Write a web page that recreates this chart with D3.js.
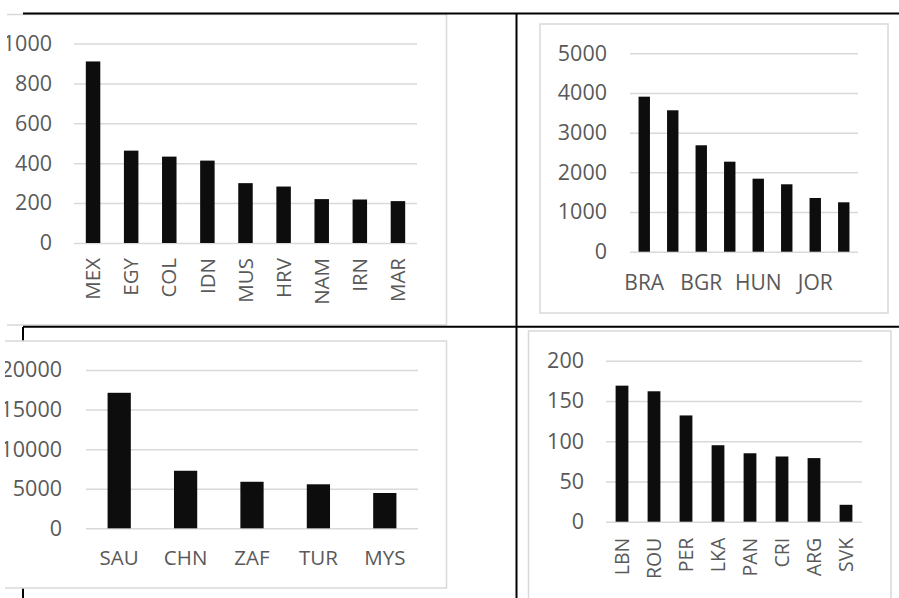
<!DOCTYPE html>
<html>
<head>
<meta charset="utf-8">
<script src="https://cdn.jsdelivr.net/npm/d3@7"></script>
<style>
  html, body { margin: 0; padding: 0; background: #fff; }
  svg { display: block; font-family: "Open Sans", "Liberation Sans", sans-serif; }
</style>
</head>
<body>
<svg id="chart" width="899" height="598"></svg>
<script>
// ---- data ----
const p1Categories = ["MEX", "EGY", "COL", "IDN", "MUS", "HRV", "NAM", "IRN", "MAR"];
const p1Values = [910, 463, 433, 413, 300, 283, 220, 218, 210];
const p1Ticks = [0, 200, 400, 600, 800, 1000];

const p2Categories = ["BRA", "", "BGR", "", "HUN", "", "JOR", ""];
const p2Values = [3907, 3564, 2682, 2269, 1840, 1699, 1354, 1245];
const p2Ticks = [0, 1000, 2000, 3000, 4000, 5000];

const p3Categories = ["SAU", "CHN", "ZAF", "TUR", "MYS"];
const p3Values = [17120, 7270, 5880, 5560, 4460];
const p3Ticks = [0, 5000, 10000, 15000, 20000];

const p4Categories = ["LBN", "ROU", "PER", "LKA", "PAN", "CRI", "ARG", "SVK"];
const p4Values = [169, 162, 132, 95, 85, 81, 79, 21];
const p4Ticks = [0, 50, 100, 150, 200];

// ---- drawing ----
const svg = d3.select("#chart");
const TEXT = "#595959", GRID = "#d9d9d9", BAR = "#0d0d0d", BOX = "#d9d9d9";

// left frame line partly hidden behind lower-left panel
svg.append("line").attr("x1", 23).attr("x2", 23).attr("y1", 327).attr("y2", 598)
  .attr("stroke", "#000").attr("stroke-width", 2);

function panel(cfg) {
  const g = svg.append("g");
  if (cfg.clipX !== undefined) {
    const clipId = "clip" + cfg.id;
    svg.append("clipPath").attr("id", clipId).append("rect")
      .attr("x", cfg.clipX).attr("y", 0).attr("width", 899).attr("height", 598);
    g.attr("clip-path", `url(#${clipId})`);
  }
  g.append("rect").attr("x", cfg.box[0]).attr("y", cfg.box[1])
    .attr("width", cfg.box[2] - cfg.box[0]).attr("height", cfg.box[3] - cfg.box[1])
    .attr("fill", "#fff").attr("stroke", BOX).attr("stroke-width", 1.5);

  const idx = cfg.categories.map((d, i) => i);
  const x = d3.scaleBand().domain(idx).range([cfg.x0, cfg.x1])
    .paddingInner(cfg.pad).paddingOuter(cfg.pad / 2);
  const y = d3.scaleLinear().domain([0, cfg.max]).range([cfg.y0, cfg.yTop]);

  const ya = d3.axisLeft(y).tickValues(cfg.ticks).tickSize(-(cfg.x1 - cfg.x0))
    .tickPadding(cfg.tickPad).tickFormat(d3.format("d"));
  const yg = g.append("g").attr("transform", `translate(${cfg.x0},0)`).call(ya);
  yg.select(".domain").remove();
  yg.selectAll("line").attr("stroke", GRID).attr("stroke-width", 1.5);
  yg.selectAll("text").attr("fill", TEXT).style("font-size", "21.5px")
    .style("font-family", "'Open Sans', sans-serif");

  g.append("g").selectAll("rect").data(cfg.values).join("rect")
    .attr("x", (d, i) => x(i)).attr("width", x.bandwidth())
    .attr("y", d => y(d)).attr("height", d => y(0) - y(d))
    .attr("fill", BAR);

  const xa = d3.axisBottom(x).tickSize(0).tickFormat(i => cfg.categories[i]);
  const xg = g.append("g").attr("transform", `translate(0,${cfg.y0})`).call(xa);
  xg.select(".domain").remove();
  const t = xg.selectAll("text").attr("fill", TEXT)
    .style("font-size", cfg.labelSize + "px")
    .style("font-family", "'Open Sans', sans-serif");
  if (cfg.rotate) {
    t.attr("text-anchor", "end").attr("y", 0).attr("dy", "0.35em")
      .attr("transform", `translate(0,${cfg.labelOffset}) rotate(-90)`);
  } else {
    t.attr("y", cfg.labelOffset).attr("dy", "0.35em");
  }
}

panel({ id: 1, categories: p1Categories, values: p1Values, ticks: p1Ticks, max: 1000,
  box: [-5, 14.5, 446.5, 325], x0: 74, x1: 417, y0: 243, yTop: 43.5, pad: 0.62,
  tickPad: 22, rotate: true, labelOffset: 15, labelSize: 20.5, clipX: 7 });

panel({ id: 2, categories: p2Categories, values: p2Values, ticks: p2Ticks, max: 5000,
  box: [540, 24, 888, 313], x0: 630, x1: 858, y0: 251.7, yTop: 53.3, pad: 0.6,
  tickPad: 23, rotate: false, labelOffset: 31, labelSize: 21 });

panel({ id: 3, categories: p3Categories, values: p3Values, ticks: p3Ticks, max: 20000,
  box: [-5, 341, 446.5, 588], x0: 86, x1: 418, y0: 528.3, yTop: 370, pad: 0.65,
  tickPad: 24, rotate: false, labelOffset: 30, labelSize: 20.5, clipX: 5 });

panel({ id: 4, categories: p4Categories, values: p4Values, ticks: p4Ticks, max: 200,
  box: [528.5, 331, 891, 612], x0: 606, x1: 862, y0: 521.7, yTop: 360.7, pad: 0.6,
  tickPad: 22, rotate: true, labelOffset: 16, labelSize: 19.5 });

// frame lines
svg.append("line").attr("x1", 23).attr("x2", 899).attr("y1", 13.5).attr("y2", 13.5)
  .attr("stroke", "#000").attr("stroke-width", 2);
svg.append("line").attr("x1", 23).attr("x2", 899).attr("y1", 326.7).attr("y2", 326.7)
  .attr("stroke", "#000").attr("stroke-width", 2);
svg.append("line").attr("x1", 516.5).attr("x2", 516.5).attr("y1", 13).attr("y2", 598)
  .attr("stroke", "#000").attr("stroke-width", 2);
</script>
</body>
</html>
